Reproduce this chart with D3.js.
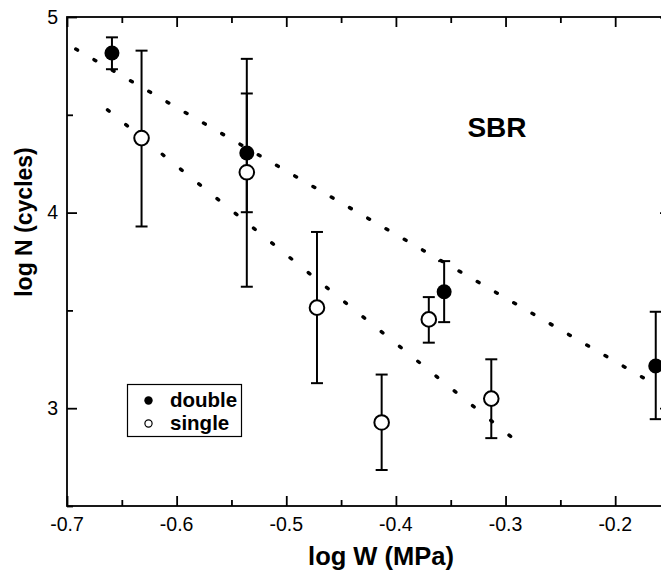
<!DOCTYPE html>
<html>
<head>
<meta charset="utf-8">
<script src="https://cdn.jsdelivr.net/npm/d3@7"></script>
<style>
  html, body { margin: 0; padding: 0; background: #fff; }
  svg { display: block; }
  text { font-family: "Liberation Sans", Arial, Helvetica, sans-serif; fill: #000; }
</style>
</head>
<body>
<div id="chart"></div>
<script>
// ---- data ----
const xTicksMajor = [-0.7, -0.6, -0.5, -0.4, -0.3, -0.2];
const xTicksMinor = [-0.65, -0.55, -0.45, -0.35, -0.25, -0.15];
const yTicksMajor = [3, 4, 5];
const yTicksMinor = [2.5, 3.5, 4.5];

const doubleX  = [-0.659, -0.536, -0.356, -0.163];
const doubleY  = [4.816, 4.305, 3.595, 3.216];
const doubleLo = [4.733, 4.002, 3.440, 2.944];
const doubleHi = [4.896, 4.609, 3.752, 3.493];

const singleX  = [-0.632, -0.536, -0.472, -0.413, -0.370, -0.313];
const singleY  = [4.381, 4.206, 3.514, 2.927, 3.454, 3.049];
const singleLo = [3.929, 3.621, 3.128, 2.684, 3.335, 2.847];
const singleHi = [4.828, 4.786, 3.901, 3.172, 3.568, 3.250];

const fitDoubleX = [-0.692, -0.172];
const fitDoubleY = [4.836, 3.148];
const fitSingleX = [-0.663, -0.295];
const fitSingleY = [4.525, 2.854];

const legendLabels = ["double", "single"];

// ---- layout ----
const W = 661, H = 575;
const mLeft = 67, mTop = 17, mBottom = 506, mRight = 670;

const svg = d3.select("#chart").append("svg").attr("width", W).attr("height", H);

const x = d3.scaleLinear().domain([-0.7, -0.15]).range([mLeft, mRight]);
const y = d3.scaleLinear().domain([2.5, 5]).range([mBottom, mTop]);

// ---- axes ----
const ax = svg.append("g").attr("class", "axes");
function styleAxis(g) {
  g.select(".domain").remove();
  g.selectAll("line").attr("stroke", "#000").attr("stroke-width", 1.8);
}
// bottom
ax.append("g").attr("transform", `translate(0,${mBottom})`)
  .call(d3.axisTop(x).tickValues(xTicksMajor).tickSize(10).tickFormat(""))
  .call(styleAxis);
ax.append("g").attr("transform", `translate(0,${mBottom})`)
  .call(d3.axisTop(x).tickValues(xTicksMinor).tickSize(6).tickFormat(""))
  .call(styleAxis);
// top
ax.append("g").attr("transform", `translate(0,${mTop})`)
  .call(d3.axisBottom(x).tickValues(xTicksMajor).tickSize(10).tickFormat(""))
  .call(styleAxis);
ax.append("g").attr("transform", `translate(0,${mTop})`)
  .call(d3.axisBottom(x).tickValues(xTicksMinor).tickSize(6).tickFormat(""))
  .call(styleAxis);
// left
ax.append("g").attr("transform", `translate(${mLeft},0)`)
  .call(d3.axisRight(y).tickValues(yTicksMajor).tickSize(10).tickFormat(""))
  .call(styleAxis);
ax.append("g").attr("transform", `translate(${mLeft},0)`)
  .call(d3.axisRight(y).tickValues(yTicksMinor).tickSize(6).tickFormat(""))
  .call(styleAxis);
// right
ax.append("g").attr("transform", `translate(${mRight},0)`)
  .call(d3.axisLeft(y).tickValues(yTicksMajor).tickSize(10).tickFormat(""))
  .call(styleAxis);
ax.append("g").attr("transform", `translate(${mRight},0)`)
  .call(d3.axisLeft(y).tickValues(yTicksMinor).tickSize(6).tickFormat(""))
  .call(styleAxis);

// frame
ax.append("rect").attr("x", mLeft).attr("y", mTop)
  .attr("width", mRight - mLeft).attr("height", mBottom - mTop)
  .attr("fill", "none").attr("stroke", "#000").attr("stroke-width", 1.8);

// tick labels
svg.append("g").selectAll("text").data(xTicksMajor).join("text")
  .attr("x", d => x(d)).attr("y", 531)
  .attr("text-anchor", "middle").attr("font-size", 19.5)
  .text(d => d3.format(".1f")(d).replace("−", "-"));
svg.append("g").selectAll("text").data(yTicksMajor).join("text")
  .attr("x", 58).attr("y", d => y(d)).attr("dy", "0.35em")
  .attr("text-anchor", "end").attr("font-size", 19.5)
  .text(d => d);

// axis titles
svg.append("text").attr("x", 381).attr("y", 565)
  .attr("text-anchor", "middle").attr("font-size", 25.5).attr("font-weight", "bold")
  .text("log W (MPa)");
svg.append("text").attr("transform", "translate(32,222) rotate(-90)")
  .attr("text-anchor", "middle").attr("font-size", 23).attr("font-weight", "bold")
  .text("log N (cycles)");

// SBR label
svg.append("text").attr("x", 497).attr("y", 137)
  .attr("text-anchor", "middle").attr("font-size", 28).attr("font-weight", "bold")
  .text("SBR");

// ---- fitted dotted lines ----
function dotted(xs, ys) {
  const x0 = x(xs[0]), y0 = y(ys[0]), x1 = x(xs[1]), y1 = y(ys[1]);
  const slope = (y1 - y0) / (x1 - x0);
  const period = 18.25 * Math.sqrt(1 + slope * slope);
  svg.append("line")
    .attr("x1", x0).attr("y1", y0).attr("x2", x1).attr("y2", y1)
    .attr("stroke", "#000").attr("stroke-width", 3.5)
    .attr("stroke-linecap", "round")
    .attr("stroke-dasharray", `2 ${period - 2}`);
}
dotted(fitDoubleX, fitDoubleY);
dotted(fitSingleX, fitSingleY);

// ---- error bars ----
function errorBars(xs, lo, hi) {
  const g = svg.append("g").attr("stroke", "#000").attr("stroke-width", 2);
  xs.forEach((xv, i) => {
    const cx = x(xv);
    g.append("line").attr("x1", cx).attr("x2", cx).attr("y1", y(lo[i])).attr("y2", y(hi[i]));
    g.append("line").attr("x1", cx - 6).attr("x2", cx + 6).attr("y1", y(lo[i])).attr("y2", y(lo[i]));
    g.append("line").attr("x1", cx - 6).attr("x2", cx + 6).attr("y1", y(hi[i])).attr("y2", y(hi[i]));
  });
}
errorBars(singleX, singleLo, singleHi);
errorBars(doubleX, doubleLo, doubleHi);

// ---- markers ----
svg.append("g").selectAll("circle").data(singleX).join("circle")
  .attr("cx", d => x(d)).attr("cy", (d, i) => y(singleY[i])).attr("r", 7.3)
  .attr("fill", "#fff").attr("stroke", "#000").attr("stroke-width", 2);
svg.append("g").selectAll("circle").data(doubleX).join("circle")
  .attr("cx", d => x(d)).attr("cy", (d, i) => y(doubleY[i])).attr("r", 7.5)
  .attr("fill", "#000");

// ---- legend ----
const lg = svg.append("g");
lg.append("rect").attr("x", 127.5).attr("y", 384.5).attr("width", 114).attr("height", 52)
  .attr("fill", "#fff").attr("stroke", "#000").attr("stroke-width", 1.2);
lg.append("circle").attr("cx", 148.5).attr("cy", 400.5).attr("r", 4.2).attr("fill", "#000");
lg.append("circle").attr("cx", 148.5).attr("cy", 423.5).attr("r", 3.6)
  .attr("fill", "#fff").attr("stroke", "#000").attr("stroke-width", 1.2);
lg.selectAll("text.lab").data(legendLabels).join("text").attr("class", "lab")
  .attr("x", 170).attr("y", (d, i) => 407 + i * 23)
  .attr("font-size", 20.5).attr("font-weight", "bold")
  .text(d => d);
</script>
</body>
</html>
